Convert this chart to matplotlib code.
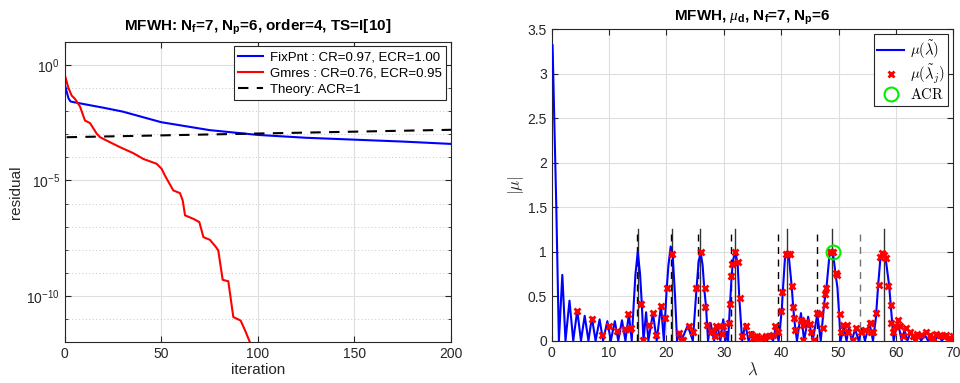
import matplotlib
matplotlib.use("Agg")
import matplotlib.pyplot as plt
import numpy as np
from matplotlib.ticker import FixedLocator, NullFormatter

plt.rcParams['font.family'] = ['Liberation Sans', 'DejaVu Sans']
plt.rcParams['mathtext.fontset'] = 'cm'
plt.rcParams['mathtext.bf'] = 'Liberation Sans:bold'
plt.rcParams['mathtext.it'] = 'Liberation Serif:italic'
plt.rcParams['mathtext.rm'] = 'Liberation Sans'
plt.rcParams['axes.unicode_minus'] = False

# ---- left panel: residual history ----
fix_it = [0, 1, 2, 3, 5, 10, 20, 30, 50, 75, 100, 125, 150, 175, 200]
fix_res = [0.15, 0.07, 0.035, 0.026, 0.024, 0.02, 0.014, 0.0095, 0.0033, 0.0015, 0.00093, 0.0007, 0.00058, 0.00048, 0.00038]

gm_it = [0, 1.9, 3.6, 5.3, 7.9, 10.5, 13.1, 16.6, 18.3, 23.5, 28.6, 35.5, 40.7, 47.6, 50.2,
         51.9, 56.2, 59.7, 61.1, 62.3, 66.6, 69.7, 71.8, 75.2, 78.3, 79.5, 81.8, 84.7,
         87.3, 91.1, 93.4, 95.9, 97.0]
gm_log = [-0.42, -0.99, -1.33, -1.47, -1.80, -2.41, -2.52, -2.98, -3.13, -3.35, -3.56, -3.82, -4.07,
          -4.28, -4.50, -4.79, -5.43, -5.55, -5.87, -6.51, -6.66, -6.80, -7.45, -7.57, -7.88, -8.03,
          -9.30, -9.36, -10.91, -11.06, -11.49, -12.0, -12.4]

th_it = [1, 200]
th_res = [7.4e-4, 1.55e-3]

# ---- right panel: spectrum ----
mu_lam = [0.15, 0.8, 1.25, 1.85, 2.4, 3.1, 3.75, 4.45, 5.1, 5.75, 6.4, 7.0, 7.65, 8.35, 8.95,
          9.7, 10.3, 11.0, 11.6, 12.25, 12.85, 13.45, 13.95, 14.3, 14.6, 15.0, 15.4, 15.7, 16.0,
          16.45, 16.85, 17.65, 18.3, 19.05, 19.55, 19.75, 20.04, 20.35, 20.74, 21.1, 21.5, 21.85,
          22.2, 22.6, 23.7, 24.6, 25.27, 25.6, 25.95, 26.3, 26.6, 26.9, 27.25, 27.7, 28.3, 28.9,
          29.4, 29.9, 30.3, 30.5, 30.75, 31.07, 31.37, 31.6, 31.95, 32.4, 32.7, 33.2, 33.75, 34.3,
          34.9, 35.4, 35.9, 36.4, 37.0, 37.5, 38.1, 38.6, 39.0, 39.55, 40.1, 40.3, 40.7, 41.0,
          41.3, 41.85, 42.1, 42.35, 42.75, 43.45, 44.0, 44.7, 45.5, 46.3, 46.9, 47.5, 47.9, 48.4,
          48.75, 49.1, 49.5, 49.8, 50.1, 50.35, 50.9, 51.4, 51.8, 52.3, 52.9, 53.5, 54.1, 54.6,
          55.4, 56.0, 56.5, 56.9, 57.3, 57.75, 58.2, 58.8, 59.1, 59.6, 60.3, 61.0, 61.5, 62.0,
          62.6, 63.2, 63.8, 64.4, 65.0, 65.6, 66.2, 66.8, 67.4, 68.0, 68.6, 69.2, 69.8]
mu_abs = [3.32, 1.5, 0.0, 0.74, 0.0, 0.45, 0.0, 0.34, 0.0, 0.28, 0.0, 0.26, 0.0, 0.24, 0.0,
          0.22, 0.0, 0.22, 0.0, 0.23, 0.0, 0.30, 0.0, 0.42, 0.75, 1.0, 0.75, 0.42, 0.0,
          0.32, 0.0, 0.31, 0.0, 0.40, 0.0, 0.25, 0.58, 0.85, 1.06, 0.95, 0.5, 0.0,
          0.1, 0.0, 0.17, 0.0, 0.61, 0.88, 1.0, 0.85, 0.58, 0.38, 0.0, 0.2, 0.0, 0.17,
          0.0, 0.24, 0.0, 0.1, 0.0, 0.40, 0.73, 0.9, 1.0, 0.88, 0.48, 0.0, 0.19, 0.0,
          0.1, 0.0, 0.07, 0.0, 0.06, 0.0, 0.08, 0.0, 0.14, 0.0, 0.34, 0.57, 0.97, 1.0,
          0.97, 0.6, 0.37, 0.2, 0.0, 0.31, 0.0, 0.27, 0.0, 0.30, 0.0, 0.42, 0.6, 0.95,
          1.0, 0.95, 0.74, 0.6, 0.3, 0.0, 0.15, 0.0, 0.15, 0.0, 0.13, 0.0, 0.14, 0.0,
          0.2, 0.0, 0.25, 0.62, 0.93, 1.0, 0.93, 0.63, 0.4, 0.0, 0.22, 0.0, 0.12, 0.0,
          0.1, 0.0, 0.08, 0.0, 0.07, 0.0, 0.06, 0.0, 0.06, 0.0, 0.05, 0.0, 0.05]

mk_lam = [4.47, 7.03, 8.83, 9.93, 11.3, 12.83, 13.3, 13.6, 13.9, 15.6, 15.9, 16.9, 17.65, 18.25,
          19.0, 19.8, 20.1, 21.0, 22.2, 22.6, 22.9, 23.9, 24.6, 25.2, 25.97, 26.66, 26.8, 27.1,
          27.8, 28.1, 28.4, 28.7, 29.3, 29.6, 29.9, 30.85, 31.0, 31.3, 31.4, 31.9, 32.4, 32.8,
          33.2, 33.9, 34.8, 35.1, 35.7, 36.2, 36.8, 37.4, 37.9, 38.6, 38.9, 39.4, 39.9, 40.1,
          40.9, 41.2, 41.48, 41.9, 42.1, 42.25, 42.35, 43.5, 43.8, 43.85, 44.4, 44.95, 45.25,
          45.7, 46.3, 46.7, 47.3, 47.6, 47.7, 47.9, 48.5, 48.7, 49.0, 49.6, 49.7, 50.2, 50.5,
          50.8, 51.4, 51.7, 52.5, 53.1, 53.97, 54.55, 55.4, 55.6, 55.7, 56.0, 56.6, 57.0, 57.3,
          57.5, 57.9, 58.3, 58.7, 59.1, 59.2, 59.5, 59.8, 60.3, 60.7, 61.3, 61.8, 62.4, 63.0,
          63.3, 63.6, 64.4, 65.3, 65.9, 66.2, 66.5, 67.0, 67.6, 68.2, 68.8, 69.1, 69.4, 69.9]
mk_abs = [0.33, 0.24, 0.06, 0.17, 0.11, 0.13, 0.30, 0.13, 0.14, 0.41, 0.01, 0.18, 0.31, 0.06,
          0.39, 0.25, 0.59, 0.97, 0.09, 0.01, 0.01, 0.17, 0.1, 0.59, 1.0, 0.59, 0.38, 0.18,
          0.11, 0.1, 0.05, 0.17, 0.17, 0.08, 0.17, 0.2, 0.41, 0.73, 0.86, 1.0, 0.88, 0.48,
          0.05, 0.17, 0.08, 0.03, 0.05, 0.01, 0.03, 0.05, 0.05, 0.06, 0.16, 0.1, 0.33, 0.55,
          0.98, 0.97, 0.98, 0.61, 0.38, 0.25, 0.12, 0.23, 0.01, 0.18, 0.21, 0.19, 0.1,
          0.01, 0.31, 0.30, 0.14, 0.4, 0.53, 0.59, 1.0, 1.0, 1.0, 0.76, 0.74, 0.30, 0.1,
          0.18, 0.18, 0.1, 0.01, 0.14, 0.1, 0.12, 0.2, 0.2, 0.1, 0.1, 0.31, 0.63, 0.94,
          0.99, 0.96, 0.93, 0.62, 0.40, 0.2, 0.1, 0.17, 0.23, 0.17, 0.05, 0.14, 0.1, 0.05,
          0.01, 0.08, 0.06, 0.1, 0.06, 0.01, 0.03, 0.08, 0.06, 0.05, 0.06, 0.01, 0.03, 0.05]

acr_lam = [49.0]
acr_abs = [1.0]

solid_lines = [15.0, 21.0, 25.9, 32.0, 41.0, 48.9, 58.0]
dashed_lines = [14.95, 20.75, 25.5, 31.2, 39.45, 46.3, 53.7]
dashed_colors = ['k', 'k', 'k', 'k', 'k', 'k', '0.45']
line_top = 1.25

axcol = '#262626'
gridcol = '#dedede'

fig = plt.figure(figsize=(9.6, 3.83), dpi=100)
ax1 = fig.add_axes([0.0674, 0.1063, 0.4024, 0.7848])
ax2 = fig.add_axes([0.5747, 0.1104, 0.4183, 0.8131])

for ax in (ax1, ax2):
    for s in ax.spines.values():
        s.set_color(axcol)
        s.set_linewidth(0.8)
    ax.tick_params(which='both', direction='in', top=True, right=True,
                   colors=axcol, labelsize=10, labelcolor=axcol)
    ax.tick_params(which='major', length=4)
    ax.set_axisbelow(True)

# left
ax1.plot(fix_it, fix_res, color='b', lw=1.5, label='FixPnt : CR=0.97, ECR=1.00')
ax1.plot(gm_it, 10.0 ** np.array(gm_log), color='r', lw=1.5, label='Gmres : CR=0.76, ECR=0.95')
ax1.plot(th_it, th_res, color='k', lw=1.5, ls=(0, (5, 4)), label='Theory: ACR=1')
ax1.set_yscale('log')
ax1.set_ylim(1e-12, 10)
ax1.set_xlim(0, 200)
ax1.set_xticks([0, 50, 100, 150, 200])
ax1.yaxis.set_major_locator(FixedLocator([1e-10, 1e-5, 1e0]))
ax1.yaxis.set_minor_locator(FixedLocator([10.0 ** k for k in range(-12, 2)]))
ax1.yaxis.set_minor_formatter(NullFormatter())
ax1.tick_params(which='minor', length=2)
ax1.grid(True, which='major', color=gridcol, lw=0.8)
ax1.grid(True, which='minor', axis='y', color='#c8c8c8', lw=0.7, ls=(0, (1, 2.5)))
ax1.set_xlabel('iteration', fontsize=11, color=axcol, labelpad=1)
ax1.set_ylabel('residual', fontsize=11, color=axcol, labelpad=2)
ax1.set_title(r'MFWH: N$_{\mathbf{f}}$=7, N$_{\mathbf{p}}$=6, order=4, TS=I[10]',
              fontsize=11, fontweight='bold', math_fontfamily='custom', pad=8)
leg1 = ax1.legend(loc='upper right', fontsize=9.5, fancybox=False, framealpha=1,
                  edgecolor=axcol, borderaxespad=0.35, handlelength=1.9,
                  labelspacing=0.3, borderpad=0.35, handletextpad=0.5)
leg1.get_frame().set_linewidth(0.8)

# right
for xv in solid_lines:
    ax2.plot([xv, xv], [0, line_top], color='0.2', lw=1.0)
for xv, c in zip(dashed_lines, dashed_colors):
    ax2.plot([xv, xv], [0, line_top], color=c, lw=1.0, ls=(0, (5, 4)))
ax2.plot(mu_lam, mu_abs, color='b', lw=1.5, label=r'$\mu(\tilde{\lambda})$', zorder=3)
ax2.plot(mk_lam, mk_abs, ls='none', marker='x', color='r', ms=4.5, mew=2,
         label=r'$\mu(\tilde{\lambda}_j)$', zorder=4)
ax2.plot(acr_lam, acr_abs, ls='none', marker='o', mfc='none', mec='#00ee00', ms=10, mew=1.5,
         label=r'$\mathrm{ACR}$', zorder=5)
ax2.set_xlim(0, 70)
ax2.set_ylim(0, 3.5)
ax2.set_xticks(np.arange(0, 71, 10))
ax2.set_yticks(np.arange(0, 3.51, 0.5))
ax2.set_yticklabels(['0', '0.5', '1', '1.5', '2', '2.5', '3', '3.5'])
ax2.grid(True, color=gridcol, lw=0.8)
ax2.set_xlabel(r'$\lambda$', fontsize=12, color=axcol, labelpad=1)
ax2.set_ylabel(r'$|\mu|$', fontsize=12, color=axcol, labelpad=1)
ax2.set_title(r'MFWH, $\mu_{\mathbf{d}}$, N$_{\mathbf{f}}$=7, N$_{\mathbf{p}}$=6',
              fontsize=11, fontweight='bold', math_fontfamily='custom', pad=6)
leg2 = ax2.legend(loc='upper right', fontsize=10.5, fancybox=False, framealpha=1,
                  edgecolor=axcol, borderaxespad=0.35, handlelength=1.8,
                  labelspacing=0.12, borderpad=0.25, handletextpad=0.4)
leg2.get_frame().set_linewidth(0.8)

fig.savefig('out.png', dpi=100)
